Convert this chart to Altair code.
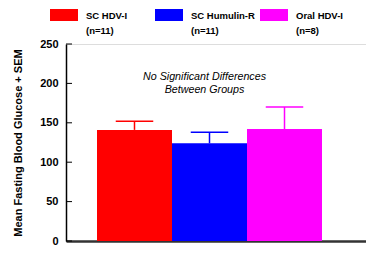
import altair as alt
import pandas as pd

groups = ["SC HDV-I", "SC Humulin-R", "Oral HDV-I"]
n_labels = ["(n=11)", "(n=11)", "(n=8)"]
means = [141, 124, 142]
upper = [152, 138, 170]  # mean + SEM
bar_colors = ["#FF0000", "#0000FF", "#FF00FF"]
err_colors = ["#FF1A1A", "#1E90FF", "#FF00FF"]
y_ticks = [0, 50, 100, 150, 200, 250]
note = ["No Significant Differences", "Between Groups"]
y_title = "Mean Fasting  Blood Glucose + SEM"

FONT = "Liberation Sans"
W, H = 300, 197
PAD_TOP = 36
BAR_PX = 75.0
x_min = 1 - 68.5 / BAR_PX
x_max = x_min + W / BAR_PX

pos = list(range(1, len(groups) + 1))
df = pd.DataFrame({
    "group": groups, "n": n_labels, "mean": means, "upper": upper, "pos": pos,
})
df["x0"] = df["pos"] - 0.5
df["x1"] = df["pos"] + 0.5
df["c0"] = df["pos"] - 0.25
df["c1"] = df["pos"] + 0.25

leg = pd.DataFrame({"group": groups, "n": n_labels, "i": list(range(len(groups)))})
leg["lx"] = -16 + 105 * leg["i"]
leg["lx2"] = leg["lx"] + 28
leg["tx"] = leg["lx"] + 36

ticks_df = pd.DataFrame({"t": y_ticks})
note_df = pd.DataFrame({"k": [0]})

# absolute page y -> plot-relative y
def rel(abs_y):
    return abs_y - 8 - PAD_TOP

xs = alt.Scale(domain=[x_min, x_max], nice=False, zero=False)
ys = alt.Scale(domain=[0, 250], nice=False)
col_bar = alt.Scale(domain=groups, range=bar_colors)
col_err = alt.Scale(domain=groups, range=err_colors)

x_axis = alt.Axis(labels=False, ticks=False, title=None, grid=False,
                  domainColor="#333333", domainWidth=2.5)
y_axis = alt.Axis(values=y_ticks, ticks=False, grid=False, domainColor="black",
                  domainWidth=1.5, labelFont=FONT, labelFontSize=11,
                  labelFontWeight="bold", labelColor="black", labelPadding=8,
                  labelOverlap=False, labelBound=False, labelFlush=False,
                  title=y_title, titleFont=FONT, titleFontSize=11,
                  titleFontWeight="bold", titleColor="black", titlePadding=16)

bars = alt.Chart(df).mark_rect().encode(
    x=alt.X("x0:Q", scale=xs, axis=x_axis),
    x2="x1:Q",
    y=alt.Y("mean:Q", scale=ys, axis=y_axis),
    y2=alt.datum(0),
    color=alt.Color("group:N", scale=col_bar, legend=None),
)

err_v = alt.Chart(df).mark_rule(strokeWidth=1.5).encode(
    x=alt.X("pos:Q", scale=xs, axis=x_axis),
    y=alt.Y("mean:Q", scale=ys, axis=y_axis),
    y2="upper:Q",
    color=alt.Color("group:N", scale=col_err, legend=None),
)

err_cap = alt.Chart(df).mark_rule(strokeWidth=1.5).encode(
    x=alt.X("c0:Q", scale=xs, axis=x_axis),
    x2="c1:Q",
    y=alt.Y("upper:Q", scale=ys, axis=y_axis),
    color=alt.Color("group:N", scale=col_err, legend=None),
)

tick_rules = alt.Chart(ticks_df).mark_rule(color="black", strokeWidth=1).encode(
    y=alt.Y("t:Q", scale=ys, axis=y_axis),
    x=alt.value(0),
    x2=alt.value(6),
)

note_text = alt.Chart(note_df).mark_text(
    text=note, font=FONT, fontSize=10.7, fontStyle="italic", align="center",
    baseline="middle", lineHeight=13, color="black",
).encode(x=alt.value(138.5), y=alt.value(rel(77)))

leg_rect = alt.Chart(leg).mark_rect().encode(
    x=alt.X("lx:Q", scale=None),
    x2="lx2:Q",
    y=alt.value(rel(9)),
    y2=alt.value(rel(21)),
    color=alt.Color("group:N", scale=col_bar, legend=None),
)

leg_name = alt.Chart(leg).mark_text(
    align="left", baseline="middle", font=FONT, fontSize=9.5,
    fontWeight="bold", color="black",
).encode(x=alt.X("tx:Q", scale=None), y=alt.value(rel(16)), text="group:N")

leg_n = alt.Chart(leg).mark_text(
    align="left", baseline="middle", font=FONT, fontSize=9.5,
    fontWeight="bold", color="black",
).encode(x=alt.X("tx:Q", scale=None), y=alt.value(rel(31)), text="n:N")

chart = alt.layer(
    bars, err_v, err_cap, tick_rules, note_text, leg_rect, leg_name, leg_n
).properties(
    width=W, height=H,
    autosize=alt.AutoSizeParams(type="none"),
    padding={"left": 58, "top": PAD_TOP, "right": 0, "bottom": 5},
).configure_view(stroke=None).configure(font=FONT)

chart.save("out.html", embed_options={"renderer": "svg", "actions": False})
